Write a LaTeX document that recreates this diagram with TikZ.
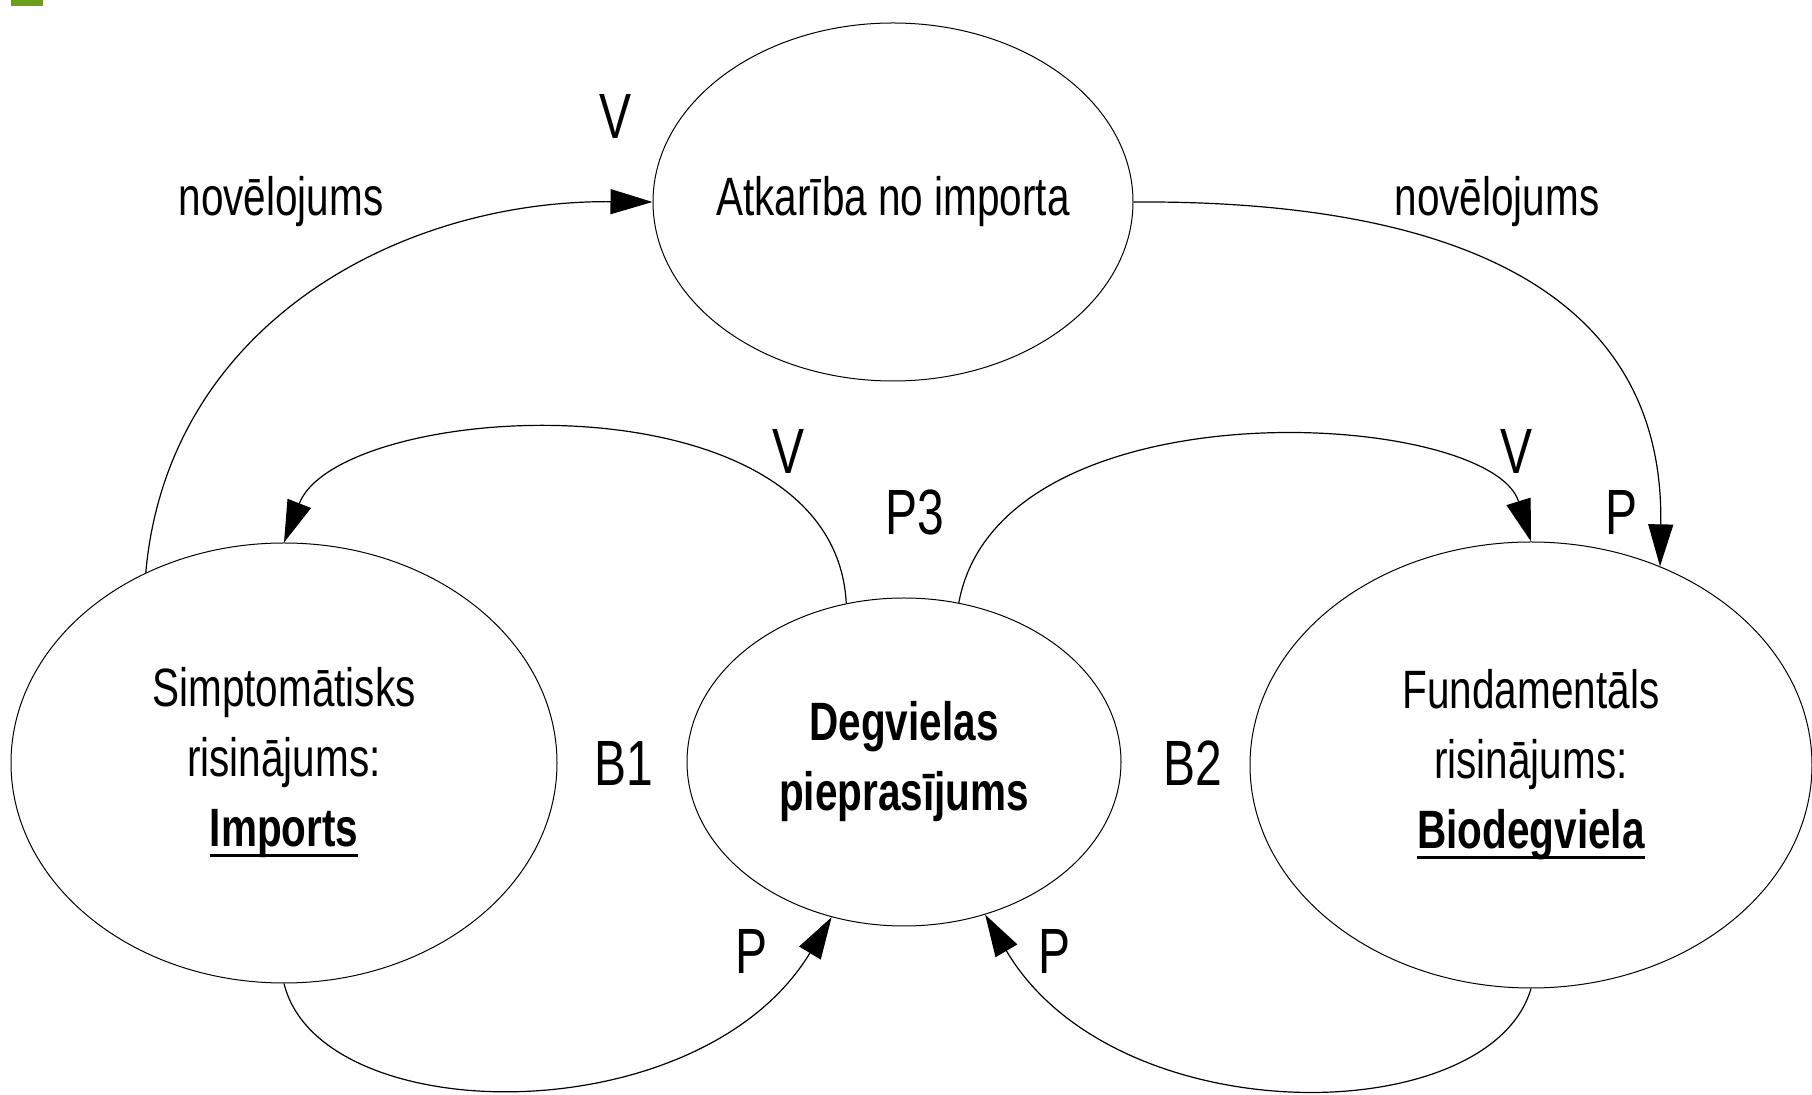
\documentclass[tikz,border=0pt]{standalone}
\usepackage{fontspec}
\setmainfont{Liberation Sans}[FakeStretch=0.75]
\usepackage{tikz}
\usetikzlibrary{shapes.geometric,arrows.meta}
\definecolor{cornergreen}{RGB}{108,158,30}
\newcommand{\ulbf}[1]{\setbox0=\hbox{\bfseries #1}\rlap{\rule[-5pt]{\wd0}{1.6pt}}\box0}

\begin{document}
\begin{tikzpicture}
    [x=0.5pt,y=-0.5pt,
    blob/.style={shape=ellipse,draw=black,line width=0.5pt,inner sep=0pt},
    blobtext/.style={font=\fontsize{27}{35}\selectfont,align=center},
    arc/.style={-{Triangle[length=21pt,width=12.5pt]},line width=0.6pt},
    looplabel/.style={font=\fontsize{32}{38}\selectfont,inner sep=0pt}]

    \useasboundingbox (0,0) rectangle (1812,1095);
    \fill [cornergreen] (11,0) rectangle (43,6);

    \node (atk) [blob,minimum width=240pt,minimum height=179pt,
        label={[blobtext]center:Atkarība no importa}] at (893,202) {};
    \node (simpt) [blob,minimum width=273pt,minimum height=220pt,
        label={[blobtext]center:{Simptomātisks\\risinājums:\\\ulbf{Imports}}}] at (284,763) {};
    \node (degv) [blob,minimum width=217pt,minimum height=164pt,
        label={[blobtext,font=\fontsize{27}{35}\selectfont\bfseries]center:{Degvielas\\pieprasījums}}] at (904,762) {};
    \node (fund) [blob,minimum width=281pt,minimum height=223pt,
        label={[blobtext]center:{Fundamentāls\\risinājums:\\\ulbf{Biodegviela}}}] at (1531,765) {};

    \node (vtop) [looplabel] at (616,116) {V};
    \node (delL) [blobtext] at (281,202) {novēlojums};
    \node (delR) [blobtext] at (1497,202) {novēlojums};
    \node (vB1) [looplabel] at (789,451) {V};
    \node (p3) [looplabel] at (915,512) {P3};
    \node (vB2) [looplabel] at (1516,451) {V};
    \node (pfund) [looplabel] at (1621,512) {P};
    \node (b1) [looplabel] at (624,763) {B1};
    \node (b2) [looplabel] at (1193,763) {B2};
    \node (pB1) [looplabel] at (752,951) {P};
    \node (pB2) [looplabel] at (1054,951) {P};

    \draw [arc] (simpt.126) .. controls +(22,-248) and +(-253,-2) .. (atk.west);
    \draw [arc] (atk.east) .. controls +(317,-2) and +(5,-277) .. (fund.57);
    \draw [arc] (degv.110) .. controls +(-12,-234) and +(56,-143) .. (simpt.north);
    \draw [arc] (degv.71) .. controls +(41,-223) and +(-41,-132) .. (fund.north);
    \draw [arc] (simpt.south) .. controls +(36,147) and +(-132,218) .. (degv.245);
    \draw [arc] (fund.south) .. controls +(-41,142) and +(130,221) .. (degv.298);
\end{tikzpicture}
\end{document}
